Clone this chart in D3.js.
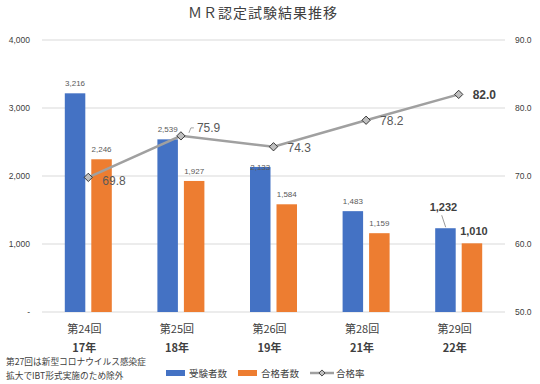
<!doctype html>
<html>
<head>
<meta charset="UTF-8">
<script src="https://d3js.org/d3.v7.min.js"></script>
<style>
  body { margin: 0; background: #fff; }
  svg { font-family: "Noto Sans CJK JP", "Noto Sans", sans-serif; }
</style>
</head>
<body>
<svg id="chart" width="540" height="384"></svg>
<script>
// data
var rounds   = ["第24回", "第25回", "第26回", "第28回", "第29回"];
var years    = ["17年", "18年", "19年", "21年", "22年"];
var examinees = [3216, 2539, 2133, 1483, 1232];
var passers   = [2246, 1927, 1584, 1159, 1010];
var passRate  = [69.8, 75.9, 74.3, 78.2, 82.0];
var leftTicks  = [0, 1000, 2000, 3000, 4000];
var rightTicks = [50, 60, 70, 80, 90];
var noteLines  = ["第27回は新型コロナウイルス感染症", "拡大でIBT形式実施のため除外"];

var blue = "#4472C4", orange = "#ED7D31", gray = "#A0A0A0";

var svg = d3.select("#chart");
var plotL = 42, plotR = 505, plotT = 40, plotB = 312;

var x = d3.scaleBand().domain(rounds).range([plotL, plotR]);
var yL = d3.scaleLinear().domain([0, 4000]).range([plotB, plotT]);
var yR = d3.scaleLinear().domain([50, 90]).range([plotB, plotT]);
var barW = 20.5, gap = 6;

// title
svg.append("text").attr("x", 263).attr("y", 18).attr("text-anchor", "middle")
   .attr("font-size", 14).attr("fill", "#404040").attr("letter-spacing", 1)
   .text("ＭＲ認定試験結果推移");

// gridlines
svg.append("g").selectAll("line").data(leftTicks).join("line")
   .attr("x1", plotL).attr("x2", plotR)
   .attr("y1", function(d){ return yL(d); }).attr("y2", function(d){ return yL(d); })
   .attr("stroke", "#D9D9D9").attr("stroke-width", 1);

// left axis
var axL = d3.axisLeft(yL).tickValues(leftTicks).tickSize(0).tickPadding(12)
  .tickFormat(function(d){ return d === 0 ? "-" : d3.format(",")(d); });
var gL = svg.append("g").attr("transform", "translate(" + plotL + ",0)").call(axL);
gL.select(".domain").remove();
gL.selectAll("text").attr("font-size", 8.5).attr("fill", "#404040")
  .attr("font-family", "Liberation Sans, Arial, sans-serif");

// right axis
var axR = d3.axisRight(yR).tickValues(rightTicks).tickSize(0).tickPadding(10)
  .tickFormat(d3.format(".1f"));
var gR = svg.append("g").attr("transform", "translate(" + plotR + ",0)").call(axR);
gR.select(".domain").remove();
gR.selectAll("text").attr("font-size", 8.5).attr("fill", "#404040")
  .attr("font-family", "Liberation Sans, Arial, sans-serif");

// bars
function cx(i){ return x(rounds[i]) + x.bandwidth() / 2; }
svg.append("g").selectAll("rect").data(examinees).join("rect")
   .attr("x", function(d, i){ return cx(i) - gap / 2 - barW; })
   .attr("y", function(d){ return yL(d); })
   .attr("width", barW)
   .attr("height", function(d){ return plotB - yL(d); })
   .attr("fill", blue);
svg.append("g").selectAll("rect").data(passers).join("rect")
   .attr("x", function(d, i){ return cx(i) + gap / 2; })
   .attr("y", function(d){ return yL(d); })
   .attr("width", barW)
   .attr("height", function(d){ return plotB - yL(d); })
   .attr("fill", orange);

// bar labels
var last = rounds.length - 1;
function barLabels(data, dx){
  svg.append("g").selectAll("text").data(data).join("text")
     .attr("x", function(d, i){
        if (i === last) return cx(i) + dx + (dx < 0 ? -2 : 2);
        return cx(i) + dx;
     })
     .attr("y", function(d, i){
        if (i === last) return dx < 0 ? yL(d) - 17 : yL(d) - 8;
        if (d === 2133) return yL(d) + 3;
        return yL(d) - 7;
     })
     .attr("text-anchor", "middle")
     .attr("font-size", function(d, i){ return i === last ? 11 : 8; })
     .attr("font-weight", function(d, i){ return i === last ? "bold" : "normal"; })
     .attr("fill", function(d, i){ return i === last ? "#404040" : "#595959"; })
     .attr("font-family", "Liberation Sans, Arial, sans-serif")
     .text(d3.format(","));
}
barLabels(examinees, -gap / 2 - barW / 2);
barLabels(passers, gap / 2 + barW / 2);

// leader line for last examinee label
svg.append("line")
   .attr("x1", cx(last) - 17).attr("y1", yL(examinees[last]) - 13)
   .attr("x2", cx(last) - 13).attr("y2", yL(examinees[last]) - 1)
   .attr("stroke", "#808080").attr("stroke-width", 0.8);

// pass rate line
var line = d3.line().x(function(d, i){ return cx(i); }).y(function(d){ return yR(d); });
svg.append("path").datum(passRate).attr("d", line)
   .attr("fill", "none").attr("stroke", gray).attr("stroke-width", 2.5);

svg.append("g").selectAll("path").data(passRate).join("path")
   .attr("d", d3.symbol().type(d3.symbolDiamond2).size(44))
   .attr("transform", function(d, i){ return "translate(" + cx(i) + "," + yR(d) + ")"; })
   .attr("fill", "#BFBFBF").attr("stroke", "#262626").attr("stroke-width", 0.9);

// pass rate labels
svg.append("g").selectAll("text").data(passRate).join("text")
   .attr("x", function(d, i){ return cx(i) + (i === 1 ? 16 : 14); })
   .attr("y", function(d, i){
      if (i === 0) return yR(d) + 8;
      if (i === 1) return yR(d) - 4;
      return yR(d) + 5;
   })
   .attr("font-size", 12)
   .attr("font-weight", function(d, i){ return i === last ? "bold" : "normal"; })
   .attr("fill", function(d, i){ return i === last ? "#404040" : "#595959"; })
   .attr("font-family", "Liberation Sans, Arial, sans-serif")
   .text(d3.format(".1f"));

// small leader near 75.9
svg.append("path")
   .attr("d", "M" + (cx(1) + 8) + "," + (yR(passRate[1]) - 3) + " l2,-5 l3,0")
   .attr("fill", "none").attr("stroke", "#808080").attr("stroke-width", 0.7);

// category labels
svg.append("g").selectAll("text").data(rounds).join("text")
   .attr("x", function(d){ return x(d) + x.bandwidth() / 2 - 4; })
   .attr("y", 333).attr("text-anchor", "middle")
   .attr("font-size", 11).attr("fill", "#404040")
   .text(function(d){ return d; });
svg.append("g").selectAll("text").data(years).join("text")
   .attr("x", function(d, i){ return cx(i) - 4; })
   .attr("y", 352).attr("text-anchor", "middle")
   .attr("font-size", 11).attr("font-weight", "bold").attr("fill", "#404040")
   .text(function(d){ return d; });

// note
svg.append("g").selectAll("text").data(noteLines).join("text")
   .attr("x", 6).attr("y", function(d, i){ return 365 + i * 14; })
   .attr("font-size", 8.7).attr("fill", "#404040")
   .text(function(d){ return d; });

// legend
var legend = svg.append("g").attr("font-size", 9.5).attr("fill", "#404040");
legend.append("rect").attr("x", 166).attr("y", 370).attr("width", 19).attr("height", 6).attr("fill", blue);
legend.append("text").attr("x", 189).attr("y", 377).text("受験者数");
legend.append("rect").attr("x", 238).attr("y", 370).attr("width", 19).attr("height", 6).attr("fill", orange);
legend.append("text").attr("x", 261).attr("y", 377).text("合格者数");
legend.append("line").attr("x1", 310).attr("x2", 334).attr("y1", 373).attr("y2", 373)
   .attr("stroke", gray).attr("stroke-width", 2.5);
legend.append("path").attr("d", d3.symbol().type(d3.symbolDiamond2).size(24))
   .attr("transform", "translate(322,373)")
   .attr("fill", "#BFBFBF").attr("stroke", "#262626").attr("stroke-width", 0.8);
legend.append("text").attr("x", 336).attr("y", 377).text("合格率");
</script>
</body>
</html>
